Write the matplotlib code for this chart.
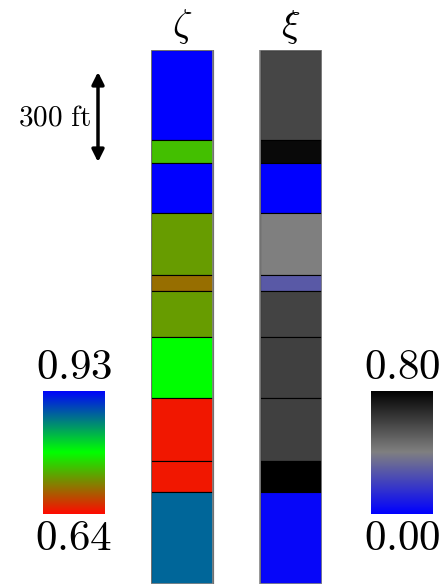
import matplotlib
matplotlib.use('Agg')
import matplotlib.pyplot as plt
import numpy as np
from matplotlib.colors import LinearSegmentedColormap, Normalize

plt.rcParams['mathtext.fontset'] = 'cm'

# layer boundaries (depth in ft from top of section)
depth_top = [0, 300, 377, 543, 750, 803, 957, 1160, 1370, 1473]
depth_bot = [300, 377, 543, 750, 803, 957, 1160, 1370, 1473, 1780]

# property values per layer
zeta = [0.93, 0.747, 0.93, 0.727, 0.70, 0.727, 0.785, 0.648, 0.648, 0.872]
xi = [0.58, 0.77, 0.0, 0.40, 0.28, 0.59, 0.60, 0.60, 0.80, 0.02]

zeta_range = (0.64, 0.93)
xi_range = (0.0, 0.80)
col_labels = [r'$\zeta$', r'$\xi$']

zeta_cmap = LinearSegmentedColormap.from_list('zeta', ['#ff0a00', '#00ff00', '#0000ff'])
xi_cmap = LinearSegmentedColormap.from_list('xi', ['#0000ff', '#808080', '#000000'])

W, H = 445, 584
fig = plt.figure(figsize=(W / 100, H / 100), dpi=100)

# --- layer columns ---
ax = fig.add_axes([151 / W, 0, 171 / W, 534 / H])
thick = np.array(depth_bot) - np.array(depth_top)
zn = Normalize(*zeta_range)
xn = Normalize(*xi_range)
ax.bar(np.zeros(len(zeta)), thick, bottom=depth_top, width=0.566,
       color=zeta_cmap(zn(zeta)), edgecolor='black', linewidth=0.8)
ax.bar(np.ones(len(xi)), thick, bottom=depth_top, width=0.566,
       color=xi_cmap(xn(xi)), edgecolor='black', linewidth=0.8)
for xc in [0, 1]:
    ax.add_patch(plt.Rectangle((xc - 0.283, 0), 0.566, depth_bot[-1], fill=False,
                               edgecolor='#888888', linewidth=1.2))
ax.set_xlim(-0.283, 1.283)
ax.set_ylim(depth_bot[-1], 0)
ax.axis('off')
for xc, lab in zip([0, 1], col_labels):
    ax.text(xc, -12, lab, ha='center', va='bottom', fontsize=28)

# --- scale arrow ---
ax.annotate('', xy=(98 / W, 1 - 162 / H), xytext=(98 / W, 1 - 72 / H),
            xycoords='figure fraction',
            arrowprops=dict(arrowstyle='<|-|>', color='black', lw=2.5,
                            mutation_scale=18, shrinkA=0, shrinkB=0))
fig.text(54 / W, 1 - 117 / H, r'$300\ \mathrm{ft}$', ha='center', va='center', fontsize=21)

# --- colorbars ---
grad = np.linspace(1, 0, 256).reshape(-1, 1)
for x0, cmap, rng in [(43, zeta_cmap, zeta_range), (371, xi_cmap, xi_range)]:
    cax = fig.add_axes([x0 / W, 1 - 514 / H, 62 / W, 123 / H])
    cax.imshow(grad, aspect='auto', cmap=cmap, extent=[0, 1, 0, 1])
    cax.axis('off')
    xc = (x0 + 31) / W
    fig.text(xc, 1 - 388 / H, f'${rng[1]:.2f}$', ha='center', va='bottom', fontsize=31)
    fig.text(xc, 1 - 517 / H, f'${rng[0]:.2f}$', ha='center', va='top', fontsize=31)

plt.savefig('out.png', dpi=100)
